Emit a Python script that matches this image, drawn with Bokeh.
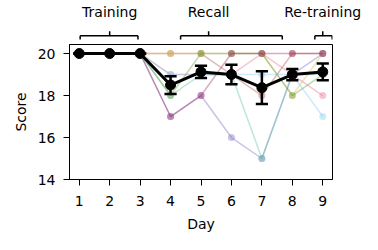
from bokeh.plotting import figure
from bokeh.layouts import column
from bokeh.models import Range1d, FixedTicker
from bokeh.embed import file_html
from bokeh.resources import INLINE
import numpy as np

# ---------------- data ----------------
days = [1, 2, 3, 4, 5, 6, 7, 8, 9]
subj_a = [20, 20, 20, 20, 20, 19, 18, 20, 20]
subj_b = [20, 20, 20, 20, 20, 20, 20, 18, 20]
subj_c = [20, 20, 20, 19, 19, 19, 20, 19, 18]
subj_d = [20, 20, 20, 17, 18, 16, 15, 19, 20]
subj_e = [20, 20, 20, 18, 19, 19, 15, 19, 19]
subj_f = [20, 20, 20, 19, 19, 19, 19, 19, 17]
subj_g = [20, 20, 20, 18, 20, 20, 20, 18, 19]
subj_h = [20, 20, 20, 17, 18, 20, 20, 20, 20]
subjects = [subj_a, subj_b, subj_c, subj_d, subj_e, subj_f, subj_g, subj_h]
subject_colors = ["#b5564a", "#d4c44a", "#e8708a", "#7a68c0",
                  "#5cc0a8", "#7ccfee", "#6a9a40", "#a0306a"]

phase_labels = ["Training", "Recall", "Re-training"]
phase_label_day = [2.0, 5.25, 9.0]
phase_start = [1.03, 4.33, 8.74]
phase_end = [2.93, 7.67, 9.31]

y_ticks = [14, 16, 18, 20]

# ---------------- derived ----------------
arr = np.array(subjects, dtype=float)
mean = arr.mean(axis=0)
sem = arr.std(axis=0, ddof=1) / np.sqrt(arr.shape[0])

FONT = "DejaVu Sans"
FS = "14px"
x0, x1 = 0.68, 9.32
y0, y1 = 14.0, 20.43
frame_w, frame_h = 263, 135
left_b, right_b, bottom_b = 69, 30, 50
main_top_b = 4
strip_h = 16

# ---------------- top strip: phase brackets ----------------
top = figure(frame_width=frame_w, frame_height=strip_h,
             x_range=Range1d(x0, x1), y_range=Range1d(strip_h, 0),
             x_axis_location="above", y_axis_location=None,
             output_backend="svg", toolbar_location=None,
             min_border_left=left_b, min_border_right=right_b,
             min_border_top=18, min_border_bottom=0)
top.grid.visible = False
top.outline_line_color = None
tax = top.xaxis[0]
tax.ticker = FixedTicker(ticks=phase_label_day)
tax.major_label_overrides = {d: lab for d, lab in zip(phase_label_day, phase_labels)}
tax.axis_line_color = None
tax.major_tick_line_color = None
tax.minor_tick_line_color = None
tax.major_tick_out = 0
tax.major_tick_in = 0
tax.major_label_standoff = 5
tax.major_label_text_font = FONT
tax.major_label_text_font_size = FS
tax.major_label_text_color = "black"

n = len(phase_labels)
y_br, y_end, y_mid = 11.3, 15.0, 6.8
top.segment(x0=phase_start, y0=[y_br] * n, x1=phase_end, y1=[y_br] * n,
            line_color="black", line_width=1.5)
top.segment(x0=phase_start, y0=[y_br] * n, x1=phase_start, y1=[y_end] * n,
            line_color="black", line_width=1.5)
top.segment(x0=phase_end, y0=[y_br] * n, x1=phase_end, y1=[y_end] * n,
            line_color="black", line_width=1.5)
top.segment(x0=phase_label_day, y0=[y_br] * n, x1=phase_label_day, y1=[y_mid] * n,
            line_color="black", line_width=1.5)

# ---------------- main plot ----------------
p = figure(frame_width=frame_w, frame_height=frame_h,
           x_range=Range1d(x0, x1), y_range=Range1d(y0, y1),
           output_backend="svg", toolbar_location=None,
           min_border_left=left_b, min_border_right=right_b,
           min_border_top=main_top_b, min_border_bottom=bottom_b)
p.grid.visible = False
p.outline_line_color = "black"
p.outline_line_width = 1

for vals, col in zip(subjects, subject_colors):
    p.line(days, vals, line_color=col, line_width=1.5, line_alpha=0.4)
    p.scatter(days, vals, size=7, fill_color=col, fill_alpha=0.4,
              line_color=None)

p.line(days, mean, line_color="black", line_width=3)
p.segment(x0=days, y0=mean - sem, x1=days, y1=mean + sem,
          line_color="black", line_width=2.5)
cap = 0.2
p.segment(x0=[d - cap for d in days], y0=mean - sem,
          x1=[d + cap for d in days], y1=mean - sem,
          line_color="black", line_width=2.5)
p.segment(x0=[d - cap for d in days], y0=mean + sem,
          x1=[d + cap for d in days], y1=mean + sem,
          line_color="black", line_width=2.5)
p.scatter(days, mean, size=10, fill_color="black", line_color="black")

p.xaxis.ticker = FixedTicker(ticks=days)
p.yaxis.ticker = FixedTicker(ticks=y_ticks)
p.xaxis.axis_label = "Day"
p.yaxis.axis_label = "Score"
for ax in (p.xaxis, p.yaxis):
    ax.axis_line_color = "black"
    ax.major_tick_line_color = "black"
    ax.major_tick_out = 6
    ax.major_tick_in = 0
    ax.minor_tick_line_color = None
    ax.major_label_text_font = FONT
    ax.major_label_text_font_size = FS
    ax.major_label_text_color = "black"
    ax.axis_label_text_font = FONT
    ax.axis_label_text_font_size = FS
    ax.axis_label_text_font_style = "normal"
    ax.axis_label_text_color = "black"
p.xaxis.major_label_standoff = 10
p.yaxis.major_label_standoff = 8
p.xaxis.axis_label_standoff = 7
p.yaxis.axis_label_standoff = 6

layout = column(top, p, spacing=0)
open("out.html", "w").write(file_html(layout, INLINE))
